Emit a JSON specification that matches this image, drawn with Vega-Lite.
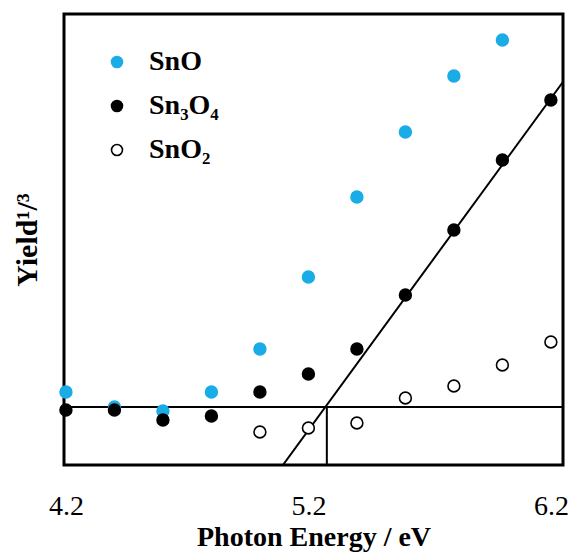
{
  "$schema": "https://vega.github.io/schema/vega-lite/v6.json",
  "width": 499,
  "height": 451,
  "autosize": "none",
  "padding": {"left": 64, "top": 14, "right": 7, "bottom": 91},
  "config": {
    "view": {"stroke": "#000", "strokeWidth": 3},
    "font": "Liberation Serif"
  },
  "datasets": {
    "pts": [
      {"e": 4.2, "y": 73, "s": "SnO"},
      {"e": 4.4, "y": 58, "s": "SnO"},
      {"e": 4.6, "y": 54, "s": "SnO"},
      {"e": 4.8, "y": 73, "s": "SnO"},
      {"e": 5.0, "y": 116, "s": "SnO"},
      {"e": 5.2, "y": 188, "s": "SnO"},
      {"e": 5.4, "y": 268, "s": "SnO"},
      {"e": 5.6, "y": 333, "s": "SnO"},
      {"e": 5.8, "y": 389, "s": "SnO"},
      {"e": 6.0, "y": 425, "s": "SnO"},
      {"e": 4.2, "y": 55, "s": "Sn₃O₄"},
      {"e": 4.4, "y": 55, "s": "Sn₃O₄"},
      {"e": 4.6, "y": 45, "s": "Sn₃O₄"},
      {"e": 4.8, "y": 49, "s": "Sn₃O₄"},
      {"e": 5.0, "y": 73, "s": "Sn₃O₄"},
      {"e": 5.2, "y": 91, "s": "Sn₃O₄"},
      {"e": 5.4, "y": 116, "s": "Sn₃O₄"},
      {"e": 5.6, "y": 170, "s": "Sn₃O₄"},
      {"e": 5.8, "y": 235, "s": "Sn₃O₄"},
      {"e": 6.0, "y": 305, "s": "Sn₃O₄"},
      {"e": 6.2, "y": 365, "s": "Sn₃O₄"},
      {"e": 5.0, "y": 33, "s": "SnO₂"},
      {"e": 5.2, "y": 37, "s": "SnO₂"},
      {"e": 5.4, "y": 42, "s": "SnO₂"},
      {"e": 5.6, "y": 67, "s": "SnO₂"},
      {"e": 5.8, "y": 79, "s": "SnO₂"},
      {"e": 6.0, "y": 100, "s": "SnO₂"},
      {"e": 6.2, "y": 123, "s": "SnO₂"}
    ],
    "lines": [
      {"x": 4.192, "x2": 6.25, "y": 58, "y2": 58},
      {"x": 5.276, "x2": 5.276, "y": 0, "y2": 58},
      {"x": 5.095, "x2": 6.2495, "y": 0, "y2": 383}
    ]
  },
  "layer": [
    {
      "data": {"name": "lines"},
      "mark": {"type": "rule", "color": "#000", "strokeWidth": 2, "clip": true},
      "encoding": {
        "x": {"field": "x", "type": "quantitative", "scale": {"domain": [4.192, 6.25], "nice": false, "zero": false}},
        "x2": {"field": "x2"},
        "y": {"field": "y", "type": "quantitative", "scale": {"domain": [0, 451], "nice": false, "zero": false}},
        "y2": {"field": "y2"}
      }
    },
    {
      "data": {"name": "pts"},
      "mark": {"type": "point", "filled": false, "size": 140, "strokeWidth": 1.6, "opacity": 1},
      "encoding": {
        "x": {
          "field": "e", "type": "quantitative",
          "scale": {"domain": [4.192, 6.25], "nice": false, "zero": false},
          "axis": {
            "values": [4.2, 5.2, 6.2], "format": ".1f", "ticks": false, "domain": false, "grid": false,
            "labelFont": "Liberation Serif", "labelFontSize": 28, "labelColor": "#000", "labelPadding": 27,
            "labelFlush": false,
            "title": "Photon Energy / eV", "titleFont": "Liberation Serif", "titleFontSize": 28,
            "titleFontWeight": "bold", "titleColor": "#000", "titlePadding": 3
          }
        },
        "y": {
          "field": "y", "type": "quantitative",
          "scale": {"domain": [0, 451], "nice": false, "zero": false},
          "axis": {
            "labels": false, "ticks": false, "domain": false, "grid": false,
            "title": "Yield¹/³", "titleFont": "Liberation Serif", "titleFontSize": 30,
            "titleFontWeight": "bold", "titleColor": "#000", "titlePadding": 22
          }
        },
        "fill": {
          "field": "s", "type": "nominal",
          "scale": {"domain": ["SnO", "Sn₃O₄", "SnO₂"], "range": ["#1AACE6", "#000000", "#ffffff"]},
          "legend": {
            "orient": "none", "legendX": 39, "legendY": 34, "title": null,
            "labelFont": "Liberation Serif", "labelFontSize": 28, "labelFontWeight": "bold", "labelColor": "#000",
            "symbolSize": 120, "symbolStrokeWidth": 1.6, "rowPadding": 16, "labelOffset": 18
          }
        },
        "stroke": {
          "field": "s", "type": "nominal",
          "scale": {"domain": ["SnO", "Sn₃O₄", "SnO₂"], "range": ["#1AACE6", "#000000", "#000000"]},
          "legend": {
            "orient": "none", "legendX": 39, "legendY": 34, "title": null,
            "labelFont": "Liberation Serif", "labelFontSize": 28, "labelFontWeight": "bold", "labelColor": "#000",
            "symbolSize": 120, "symbolStrokeWidth": 1.6, "rowPadding": 16, "labelOffset": 18
          }
        }
      }
    }
  ]
}
